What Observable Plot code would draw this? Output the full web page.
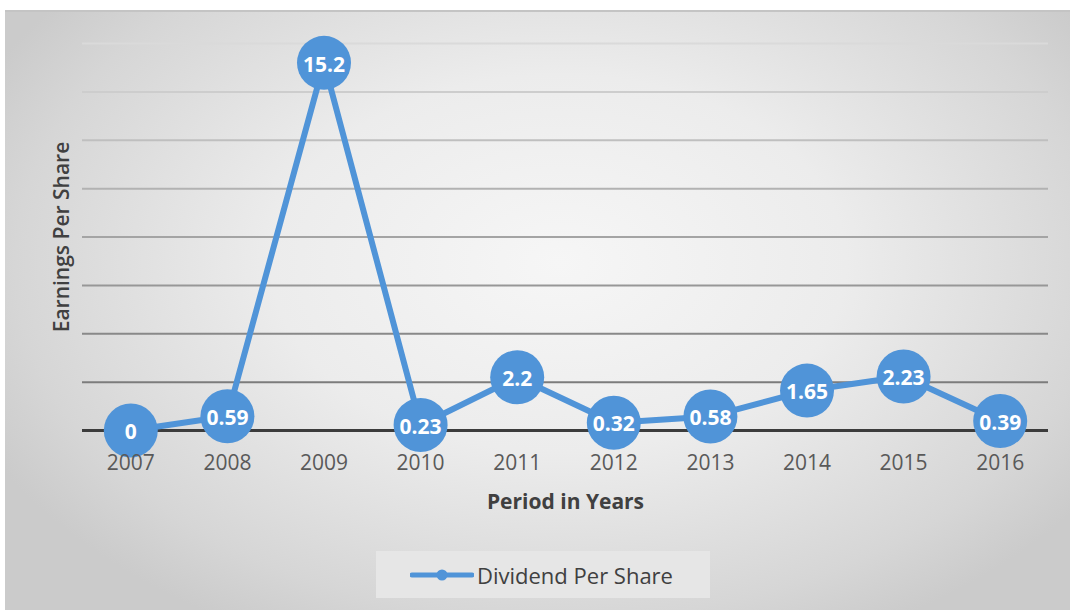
<!DOCTYPE html>
<html>
<head>
<meta charset="utf-8">
<script src="https://cdn.jsdelivr.net/npm/d3@7"></script>
<script src="https://cdn.jsdelivr.net/npm/@observablehq/plot@0.6"></script>
<style>
  html, body { margin: 0; padding: 0; background: #fff; }
  #wrap { position: relative; width: 1070px; height: 610px; overflow: hidden; font-family: "Open Sans", Lato, sans-serif; }
  #bg { position: absolute; left: 5px; top: 10px; width: 1065px; height: 600px;
        background: radial-gradient(ellipse 60% 70% at 52% 42%, #f6f6f6 0%, #ececec 45%, #d6d6d6 85%, #cbcbcb 100%);
        border-top: 2px solid #c4c4c4; box-sizing: border-box; }
  #chart { position: absolute; left: 0; top: 0; }
  #legend { position: absolute; left: 376px; top: 551px; width: 334px; height: 47px;
            background: #e6e6e6; display: flex; align-items: center; box-sizing: border-box; padding-left: 34px; }
  #legend span { font-size: 22px; color: #404040; margin-left: 3px; }
</style>
</head>
<body>
<div id="wrap">
  <div id="bg"></div>
  <div id="chart"></div>
  <div id="legend"></div>
</div>
<script>
const years = [2007, 2008, 2009, 2010, 2011, 2012, 2013, 2014, 2015, 2016];
const dividend = [0, 0.59, 15.2, 0.23, 2.2, 0.32, 0.58, 1.65, 2.23, 0.39];
const gridValues = [2, 4, 6, 8, 10, 12, 14, 16];
const seriesName = "Dividend Per Share";
const xTitle = "Period in Years";
const yTitle = "Earnings Per Share";

const data = years.map((y, i) => ({year: y, value: dividend[i]}));
const blue = "#5094d8";
const gridColor = d3.scaleLinear([2, 16], ["#7c7c7c", "#dadada"]);

const plot = Plot.plot({
  width: 1070,
  height: 540,
  marginLeft: 82,
  marginRight: 22,
  marginTop: 43,
  marginBottom: 110,
  style: {background: "transparent", fontFamily: "'Open Sans', Lato, sans-serif", overflow: "visible"},
  x: {domain: [2006.5, 2016.5], axis: null},
  y: {domain: [0, 16], axis: null},
  marks: [
    Plot.ruleY(gridValues, {stroke: d => gridColor(d), strokeWidth: 2}),
    Plot.ruleY([0], {stroke: "#3c3c3c", strokeWidth: 3}),
    Plot.line(data, {x: "year", y: "value", stroke: blue, strokeWidth: 6}),
    Plot.dot(data, {x: "year", y: "value", r: 27, fill: blue, stroke: "none"}),
    Plot.text(data, {x: "year", y: "value", text: d => String(d.value), fill: "white",
      fontWeight: "bold", fontSize: 21, dy: 2, lineAnchor: "middle"}),
    Plot.text(years, {x: d => d, y: () => 0, text: d => String(d), dy: 33, fontSize: 21,
      fill: "#595959", lineAnchor: "middle"}),
    Plot.text([xTitle], {frameAnchor: "bottom", text: d => d, dy: 72, fontSize: 21,
      fontWeight: "bold", fill: "#404040", lineAnchor: "middle"}),
    Plot.text([yTitle], {frameAnchor: "left", text: d => d, dx: -20, rotate: -90, fontSize: 21,
      fontWeight: 600, fill: "#404040", lineAnchor: "middle", textAnchor: "middle"})
  ]
});
document.getElementById("chart").appendChild(plot);

// legend
const leg = document.getElementById("legend");
const ns = "http://www.w3.org/2000/svg";
const sw = document.createElementNS(ns, "svg");
sw.setAttribute("width", 64); sw.setAttribute("height", 14);
const ln = document.createElementNS(ns, "line");
ln.setAttribute("x1", 2); ln.setAttribute("x2", 62); ln.setAttribute("y1", 7); ln.setAttribute("y2", 7);
ln.setAttribute("stroke", blue); ln.setAttribute("stroke-width", 5); ln.setAttribute("stroke-linecap", "round");
const cc = document.createElementNS(ns, "circle");
cc.setAttribute("cx", 32); cc.setAttribute("cy", 7); cc.setAttribute("r", 5.5); cc.setAttribute("fill", blue);
sw.appendChild(ln); sw.appendChild(cc);
leg.appendChild(sw);
const lt = document.createElement("span");
lt.textContent = seriesName;
leg.appendChild(lt);
</script>
</body>
</html>
